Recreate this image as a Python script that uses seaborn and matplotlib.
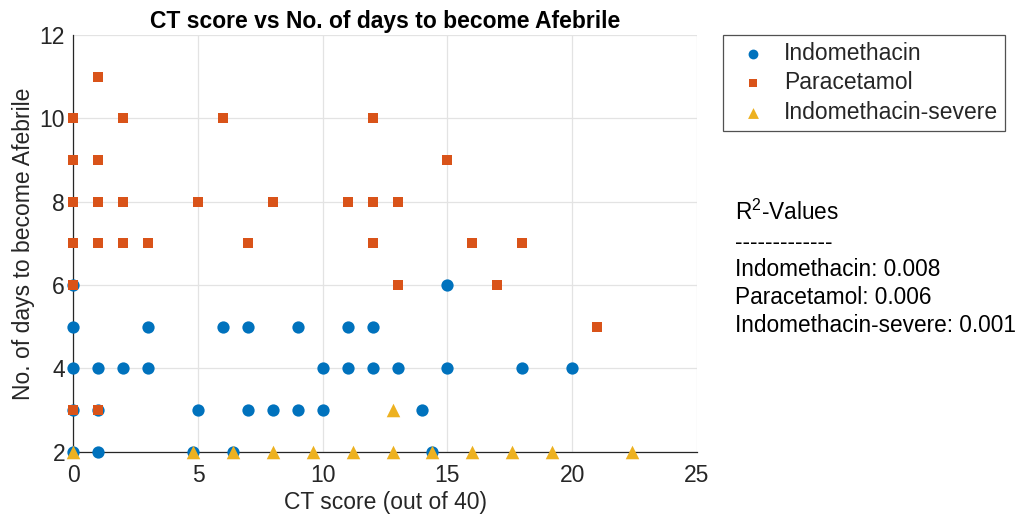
import matplotlib
matplotlib.use("Agg")
import pandas as pd
import seaborn as sns
import matplotlib.pyplot as plt

# data
indo_x = [0, 15,
          0, 3, 6, 7, 9, 11, 12,
          0, 1, 2, 3, 10, 11, 12, 13, 15, 18, 20,
          0, 1, 5, 7, 8, 9, 10, 14,
          0, 1, 4.8, 6.4, 14.4]
indo_y = [6, 6,
          5, 5, 5, 5, 5, 5, 5,
          4, 4, 4, 4, 4, 4, 4, 4, 4, 4, 4,
          3, 3, 3, 3, 3, 3, 3, 3,
          2, 2, 2, 2, 2]

para_x = [1,
          0, 2, 6, 12,
          0, 1, 15,
          0, 1, 2, 5, 8, 11, 12, 13,
          0, 1, 2, 3, 7, 12, 16, 18,
          0, 13, 17,
          21,
          0, 1]
para_y = [11,
          10, 10, 10, 10,
          9, 9, 9,
          8, 8, 8, 8, 8, 8, 8, 8,
          7, 7, 7, 7, 7, 7, 7, 7,
          6, 6, 6,
          5,
          3, 3]

sev_x = [0, 4.8, 6.4, 8, 9.6, 11.2, 12.8, 14.4, 16, 17.6, 19.2, 22.4, 12.8]
sev_y = [2, 2, 2, 2, 2, 2, 2, 2, 2, 2, 2, 2, 3]

r2_names = ["Indomethacin", "Paracetamol", "Indomethacin-severe"]
r2_values = [0.008, 0.006, 0.001]

sns.set_style("white")
plt.rcParams['font.family'] = ['Liberation Sans', 'DejaVu Sans']
plt.rcParams['mathtext.fontset'] = 'custom'
plt.rcParams['mathtext.rm'] = 'Liberation Sans'
plt.rcParams['mathtext.it'] = 'Liberation Sans'

ink = "#262626"
fig = plt.figure(figsize=(10.2, 5.19), dpi=100)
ax = fig.add_axes([0.0719, 0.1297, 0.6112, 0.8029])

df_indo = pd.DataFrame({"x": indo_x, "y": indo_y})
df_para = pd.DataFrame({"x": para_x, "y": para_y})
df_sev = pd.DataFrame({"x": sev_x, "y": sev_y})

sns.scatterplot(data=df_indo, x="x", y="y", ax=ax, color="#0072BD", marker="o",
                s=78, linewidth=0, label="Indomethacin", clip_on=False, zorder=3)
sns.scatterplot(data=df_para, x="x", y="y", ax=ax, color="#D95319", marker="s",
                s=48, linewidth=0, label="Paracetamol", clip_on=False, zorder=4)
sns.scatterplot(data=df_sev, x="x", y="y", ax=ax, color="#EDB120", marker="^",
                s=95, linewidth=0, label="Indomethacin-severe", clip_on=False, zorder=5)

ax.set_xlim(0, 25)
ax.set_ylim(2, 12)
ax.set_xticks([0, 5, 10, 15, 20, 25])
ax.set_yticks([2, 4, 6, 8, 10, 12])
ax.grid(True, color="#e3e3e3", linewidth=0.9)
ax.set_axisbelow(True)
for side in ["top", "right"]:
    ax.spines[side].set_visible(False)
for side in ["left", "bottom"]:
    ax.spines[side].set_color(ink)
    ax.spines[side].set_linewidth(0.9)
ax.tick_params(direction="in", length=4, width=0.9, color=ink,
               labelcolor=ink, labelsize=16.5)
ax.tick_params(axis="x", pad=9)
ax.tick_params(axis="y", pad=6)

ax.set_xlabel("CT score (out of 40)", fontsize=16.5, color=ink, labelpad=3)
ax.set_ylabel("No. of days to become Afebrile", fontsize=16.5, color=ink, labelpad=3)
ax.set_title("CT score vs No. of days to become Afebrile", fontsize=16.5,
             fontweight="bold", color="black", pad=5)

leg = ax.legend(loc="upper left", bbox_to_anchor=(723 / 1020, 1 - 35 / 519),
                bbox_transform=fig.transFigure, fontsize=16.5, frameon=True,
                fancybox=False, borderaxespad=0, handlelength=2.0,
                handletextpad=0.35, labelspacing=0.28, borderpad=0.3,
                markerscale=0.8)
leg.get_frame().set_edgecolor(ink)
leg.get_frame().set_linewidth(0.9)

lines = ["R$^2$-Values", "-------------"] + \
        [f"{n}: {v:.3f}" for n, v in zip(r2_names, r2_values)]
ys = [212, 242, 270, 298, 326]
for txt, yy in zip(lines, ys):
    fig.text(735 / 1020, 1 - yy / 519, txt, fontsize=16.3, color="black",
             ha="left", va="center")

fig.savefig("out.png", dpi=100)
